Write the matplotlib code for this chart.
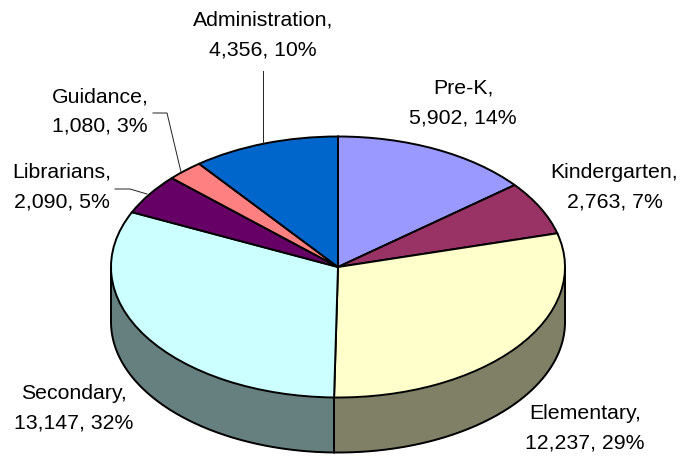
import numpy as np
import matplotlib
matplotlib.use('Agg')
import matplotlib.pyplot as plt
from matplotlib.lines import Line2D

categories = ['Pre-K', 'Kindergarten', 'Elementary', 'Secondary', 'Librarians', 'Guidance', 'Administration']
values = [5902, 2763, 12237, 13147, 2090, 1080, 4356]
percents = [14, 7, 29, 32, 5, 3, 10]
top_colors = ['#9999FF', '#993366', '#FFFFCC', '#CCFFFF', '#660066', '#FF8080', '#0066CC']
side_colors = ['#4D4D80', '#4D1A33', '#808066', '#668080', '#330033', '#804040', '#003366']

W, H = 681, 457
cx, cy = 338, 267        # pie centre in pixels
rx, ry = 227, 130.5      # ellipse radii in pixels
depth = 55 / ry          # wall height, in units of the pie radius
edge = 1.4

plt.rcParams['font.family'] = ['Liberation Sans', 'DejaVu Sans']

fig = plt.figure(figsize=(W / 100, H / 100), dpi=100)
ax = fig.add_axes([0, 0, 1, 1])

ax.pie(values, startangle=90, counterclock=False, radius=1, colors=top_colors,
       wedgeprops={'edgecolor': 'black', 'linewidth': edge})
ax.set_aspect('auto')
ax.set_xlim(-cx / rx, (W - cx) / rx)
ax.set_ylim(-(H - cy) / ry, cy / ry)
ax.axis('off')

# side wall: only the front half of the ellipse can be seen
fractions = np.cumsum([0] + values) / sum(values)
for i in range(len(values)):
    a0 = max(fractions[i] * 2 * np.pi, np.pi / 2)
    a1 = min(fractions[i + 1] * 2 * np.pi, 3 * np.pi / 2)
    if a1 <= a0:
        continue
    t = np.linspace(a0, a1, 200)
    x = np.sin(t)
    y = np.cos(t)
    ax.fill_between(x, y, y - depth, color=side_colors[i], linewidth=0, zorder=0.5)
    ax.plot(x, y - depth, color='black', lw=edge, zorder=0.6)
    ax.plot([x[0], x[0]], [y[0], y[0] - depth], color='black', lw=edge, zorder=0.6)
    ax.plot([x[-1], x[-1]], [y[-1], y[-1] - depth], color='black', lw=edge, zorder=0.6)

# data labels, positions in pixels
label_x = [463, 614.5, 585, 74, 62, 100, 263]
label_y = [103, 187.5, 428, 408, 187, 111.5, 35]
for name, val, pct, lx, ly in zip(categories, values, percents, label_x, label_y):
    fig.text(lx / W, 1 - ly / H, f'{name},\n{val:,}, {pct}%', ha='center', va='center',
             fontsize=15.3, linespacing=1.72, color='black')

# leader lines
leaders = [
    ([263, 263], [71, 143]),
    ([153, 167, 181], [113, 113, 172]),
    ([115, 130, 147], [189, 189, 194]),
]
for xs, ys in leaders:
    fig.add_artist(Line2D([p / W for p in xs], [1 - p / H for p in ys],
                          color='#222222', lw=0.7))

fig.savefig('out.png', dpi=100)
